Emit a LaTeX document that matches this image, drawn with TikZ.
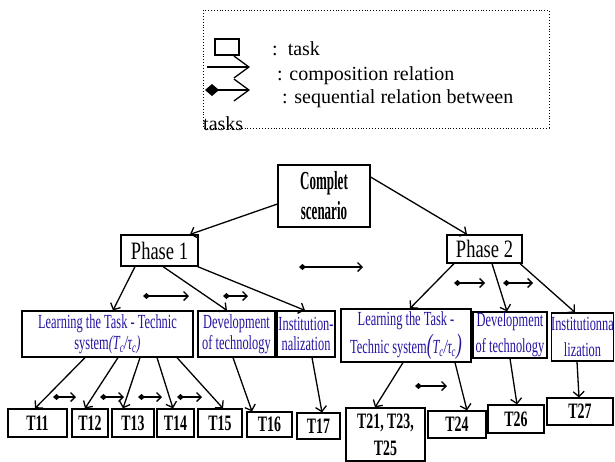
\documentclass[tikz,border=0pt]{standalone}
\usepackage{fontspec}
\setmainfont{Liberation Serif}
\newfontfamily\condR[FakeStretch=0.62]{Liberation Serif}
\newfontfamily\condP[FakeStretch=0.74]{Liberation Serif}
\newfontfamily\condB[FakeStretch=0.5]{Liberation Serif}
\newfontfamily\condT[FakeStretch=0.63]{Liberation Serif}
\usetikzlibrary{arrows.meta}
\definecolor{tblue}{RGB}{36,20,160}
\begin{document}
\begin{tikzpicture}[x=1pt,y=-1pt,
  box/.style={draw, line width=1.2pt, inner sep=0pt, align=center},
  bluetxt/.style={font=\condR\fontsize{20}{20.5}\selectfont, text=tblue},
  tlab/.style={font=\condT\bfseries\fontsize{22}{27}\selectfont},
  comp/.style={line width=1.3pt, -{Straight Barb[length=5pt,width=11pt]}},
  seq/.style={line width=1.3pt, {Diamond[length=7pt,width=6pt]}-{Straight Barb[length=4.5pt,width=9pt]}},
  legtxt/.style={font=\fontsize{20}{24}\selectfont, anchor=base west, inner sep=0pt}]
\useasboundingbox (0,0) rectangle (615,461);
% legend
\draw[dotted, line width=0.9pt] (203,10) rectangle (549,128);
\node[draw, line width=1.3pt, minimum width=24pt, minimum height=16pt, inner sep=0pt] (lsq) at (227,47) {};
\coordinate (lca) at (207,67);
\coordinate (lcb) at (250,67);
\draw[line width=1.3pt, -{Straight Barb[length=15pt,width=22pt]}] (lca) -- (lcb);
\coordinate (lsa) at (205,90);
\coordinate (lsb) at (250,90);
\draw[line width=1.3pt, {Diamond[length=14pt,width=12pt]}-{Straight Barb[length=15pt,width=22pt]}] (lsa) -- (lsb);
\node[legtxt] (lt1) at (272,55) {:\ \ task};
\node[legtxt] (lt2) at (277,80) {: composition relation};
\node[legtxt] (lt3) at (282,103) {: sequential relation between};
\node[legtxt] (lt4) at (203,130) {tasks};
% main nodes
\node[box, minimum width=92pt, minimum height=62pt, font=\condB\bfseries\fontsize{26}{30}\selectfont] (comp) at (324,196) {Complet\\scenario};
\node[box, minimum width=77pt, minimum height=31pt, font=\condP\fontsize{25}{25}\selectfont] (ph1) at (159.5,250.5) {Phase 1};
\node[box, minimum width=75pt, minimum height=28pt, font=\condP\fontsize{25}{25}\selectfont] (ph2) at (484.5,249) {Phase 2};
\node[box, bluetxt, minimum width=171pt, minimum height=46pt] (L1) at (107.5,334) {Learning the Task - Technic\\system{\itshape(T\textsubscript{c}/τ\textsubscript{c})}};
\node[box, bluetxt, minimum width=77pt, minimum height=46pt] (D1) at (236.5,334) {Development\\of technology};
\node[box, bluetxt, minimum width=58pt, minimum height=46pt] (I1) at (306,334) {Institution-\\nalization};
\node[box, bluetxt, minimum width=130pt, minimum height=53pt, font=\condR\fontsize{20}{28}\selectfont] (L2) at (406,335.5) {Learning the Task -\\Technic system{\itshape\fontsize{28}{28}\selectfont(}{\itshape T\textsubscript{c}/τ\textsubscript{c}}{\itshape\fontsize{28}{28}\selectfont)}};
\node[box, bluetxt, minimum width=74pt, minimum height=46pt, font=\condR\fontsize{20}{26}\selectfont] (D2) at (510,335) {Development\\of technology};
\node[box, bluetxt, minimum width=61pt, minimum height=48pt, font=\condR\fontsize{20}{26}\selectfont] (I2) at (582.5,337) {Institutionna\\lization};
\node[box, tlab, minimum width=59pt, minimum height=28pt] (T11) at (37.5,423) {T11};
\node[box, tlab, minimum width=36pt, minimum height=28pt] (T12) at (90,423) {T12};
\node[box, tlab, minimum width=42pt, minimum height=28pt] (T13) at (133,423) {T13};
\node[box, tlab, minimum width=37pt, minimum height=28pt] (T14) at (175.5,423) {T14};
\node[box, tlab, minimum width=44pt, minimum height=28pt] (T15) at (220,423) {T15};
\node[box, tlab, minimum width=45pt, minimum height=25pt] (T16) at (269.5,424.5) {T16};
\node[box, tlab, minimum width=43pt, minimum height=26pt] (T17) at (318.5,426) {T17};
\node[box, tlab, minimum width=79pt, minimum height=53pt] (T21) at (385.5,434.5) {T21, T23,\\T25};
\node[box, tlab, minimum width=58pt, minimum height=27pt] (T24) at (457,424.5) {T24};
\node[box, tlab, minimum width=56pt, minimum height=28pt] (T26) at (516,419) {T26};
\node[box, tlab, minimum width=66pt, minimum height=27pt] (T27) at (580,411.5) {T27};
% composition arrows
\draw[comp] ([yshift=-8pt]comp.west) -- ([xshift=30.5pt]ph1.north);
\draw[comp] ([yshift=19pt]comp.east) -- ([xshift=-17.5pt]ph2.north);
\draw[comp] ([xshift=-24.5pt]ph1.south) -- ([xshift=5.5pt]L1.north);
\draw[comp] ([xshift=3.5pt]ph1.south) -- ([xshift=-9.5pt]D1.north);
\draw[comp] ([xshift=-1pt]ph1.south east) -- ([xshift=-1pt]I1.north);
\draw[comp] ([xshift=-30.5pt]ph2.south) -- ([xshift=4pt]L2.north);
\draw[comp] ([xshift=7.5pt]ph2.south) -- ([xshift=-3pt]D2.north);
\draw[comp] ([xshift=35.5pt]ph2.south) -- ([xshift=-7.5pt]I2.north);
\draw[comp] ([xshift=-22.5pt]L1.south) -- ([xshift=-2.5pt]T11.north);
\draw[comp] ([xshift=10.5pt]L1.south) -- ([xshift=-5pt]T12.north);
\draw[comp] ([xshift=32.5pt]L1.south) -- ([xshift=-10pt]T13.north);
\draw[comp] ([xshift=49.5pt]L1.south) -- ([xshift=-2.5pt]T14.north);
\draw[comp] ([xshift=69.5pt]L1.south) -- ([xshift=3pt]T15.north);
\draw[comp] ([xshift=-3.5pt]D1.south) -- ([xshift=-17.5pt]T16.north);
\draw[comp] ([xshift=6pt]I1.south) -- ([xshift=3.5pt]T17.north);
\draw[comp] ([xshift=-3pt]L2.south) -- ([xshift=-10.5pt]T21.north);
\draw[comp] ([xshift=49pt]L2.south) -- ([xshift=10pt]T24.north);
\draw[comp] (D2.south) -- ([xshift=1pt]T26.north);
\draw[comp] ([xshift=-5.5pt]I2.south) -- ([xshift=-1pt]T27.north);
% sequential arrows
\foreach \n/\xa/\xb/\y in {s1/299/363/267, s2/143/189/296, s3/223/248/296, s4/454/485/283, s5/503/533/283, s6/53/76/397, s7/100/124/397, s8/138/162/397, s9/177/202/397, s10/415/447/386}{
  \coordinate (\n a) at (\xa,\y);
  \coordinate (\n b) at (\xb,\y);
  \draw[seq] (\n a) -- (\n b);
}
\end{tikzpicture}
\end{document}
